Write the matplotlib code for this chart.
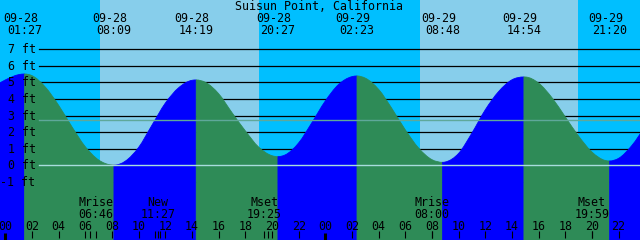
import matplotlib
matplotlib.use('Agg')
import numpy as np
import matplotlib.pyplot as plt
import matplotlib.transforms as mtransforms
from matplotlib.path import Path
from matplotlib.patches import PathPatch

plt.rcParams['font.family'] = 'DejaVu Sans Mono'

# Tide heights (ft), hourly from 09-28 -1h to 09-30 00h
hours = list(range(-1, 49))
heights = [4.70, 5.15, 5.47, 5.41, 4.72, 3.62, 2.32, 1.12, 0.32, 0.01,
           0.25, 1.08, 2.42, 3.75, 4.68, 5.13, 5.01, 4.32, 3.18, 2.08,
           1.10, 0.58, 0.63, 1.35, 2.58, 3.88, 4.88, 5.35, 5.26, 4.58,
           3.42, 2.14, 1.04, 0.34, 0.20, 0.72, 1.95, 3.35, 4.45, 5.16,
           5.33, 4.96, 4.08, 2.92, 1.76, 0.80, 0.29, 0.42, 1.20, 2.35]

# High / low tide events (hours from 09-28 00:00)
event_times = [1.45, 8.15, 14.32, 20.45, 26.38, 32.80, 38.90, 45.33]
event_heights = [5.51, 0.00, 5.15, 0.52, 5.39, 0.18, 5.33, 0.26]
event_dates = ['09-28', '09-28', '09-28', '09-28', '09-29', '09-29', '09-29', '09-29']
event_clock = ['01:27', '08:09', '14:19', '20:27', '02:23', '08:48', '14:54', '21:20']

# Moon events
moon_times = [6.77, 11.45, 19.42, 32.00, 43.98]
moon_names = ['Mrise', 'New', 'Mset', 'Mrise', 'Mset']
moon_clock = ['06:46', '11:27', '19:25', '08:00', '19:59']

day_spans = [(7.09, 19.01), (31.09, 42.94)]
msl_level = 2.72
depth_levels = list(range(-1, 8))
hour_ticks = list(range(0, 48, 2))
midnights = [0, 24]
extra_ticks = [6.38, 11.23, 11.60, 19.68]

title = 'Suisun Point, California'

# colours
NIGHT = '#00BFFF'
DAY = '#87CEEB'
RISE = '#0000FF'
FALL = '#2E8B57'
MSL_COL = '#5FA89A'
DATUM_COL = '#A8DCDC'

W, H = 640, 240


def hx(px):
    return (px - 5.3) / 13.333


def fy(py):
    return (165.3 - py) / 16.57


fig = plt.figure(figsize=(W / 100, H / 100), dpi=100)
ax = fig.add_axes([0, 0, 1, 1])
ax.set_facecolor(NIGHT)
ax.set_xlim(hx(0), hx(W))
ax.set_ylim(fy(H), fy(0))
ax.set_xticks([])
ax.set_yticks([])
for s in ax.spines.values():
    s.set_visible(False)

for a, b in day_spans:
    ax.axvspan(a, b, color=DAY, lw=0, zorder=0)

left = 39 / W
for lv in depth_levels:
    ax.axhline(lv, xmin=left, color='black', lw=0.9, zorder=1)

# tide curve: smooth bezier path through the read points, flat at highs/lows
t = np.array(hours + event_times, dtype=float)
h = np.array(heights + event_heights, dtype=float)
order = np.argsort(t)
t, h = t[order], h[order]
slope = np.gradient(h, t)
ev_idx = [int(np.argmin(np.abs(t - et))) for et in event_times]
slope[ev_idx] = 0.0
bottom = fy(H) - 1


def segment_path(i0, i1):
    verts = [(t[i0], bottom), (t[i0], h[i0])]
    codes = [Path.MOVETO, Path.LINETO]
    for k in range(i0, i1):
        dt = t[k + 1] - t[k]
        verts += [(t[k] + dt / 3, h[k] + slope[k] * dt / 3),
                  (t[k + 1] - dt / 3, h[k + 1] - slope[k + 1] * dt / 3),
                  (t[k + 1], h[k + 1])]
        codes += [Path.CURVE4] * 3
    verts += [(t[i1], bottom), (t[i0], bottom)]
    codes += [Path.LINETO, Path.CLOSEPOLY]
    return Path(verts, codes)


bounds = [0] + ev_idx + [len(t) - 1]
for i0, i1 in zip(bounds[:-1], bounds[1:]):
    col = RISE if h[i1] > h[i0] else FALL
    ax.add_patch(PathPatch(segment_path(i0, i1), facecolor=col, edgecolor=col,
                           lw=0.6, zorder=2))

ax.axhline(msl_level, xmin=left, color=MSL_COL, lw=1.0, zorder=3)
ax.axhline(0, xmin=left, color=DATUM_COL, lw=1.0, zorder=3)

fs = 8.4

# depth labels
ylab_tr = mtransforms.blended_transform_factory(ax.transAxes, ax.transData)
ylab_tr = mtransforms.offset_copy(ylab_tr, fig=fig, y=-4, units='dots')
for lv in depth_levels:
    ax.text(35.5 / W, lv, f'{lv} ft', transform=ylab_tr, ha='right',
            va='baseline', fontsize=fs, color='black', zorder=5)

xt = mtransforms.blended_transform_factory(ax.transData, fig.transFigure)
xt_shift = mtransforms.offset_copy(xt, fig=fig, x=-4, units='dots')

fig.text(319 / W, 1 - 10 / H, title, ha='center', va='baseline', fontsize=fs)

for et, d, c in zip(event_times, event_dates, event_clock):
    ax.text(et, 1 - 22 / H, d, transform=xt_shift, ha='center', va='baseline', fontsize=fs)
    ax.text(et, 1 - 34 / H, c, transform=xt, ha='center', va='baseline', fontsize=fs)

for mt, n, c in zip(moon_times, moon_names, moon_clock):
    ax.text(mt, 1 - 206 / H, n, transform=xt, ha='center', va='baseline', fontsize=fs, zorder=5)
    ax.text(mt, 1 - 218 / H, c, transform=xt, ha='center', va='baseline', fontsize=fs, zorder=5)

for hr in hour_ticks:
    ax.text(hr, 1 - 230 / H, f'{hr % 24:02d}', transform=xt, ha='center',
            va='baseline', fontsize=fs, zorder=5)

tick_tr = mtransforms.blended_transform_factory(ax.transData, ax.transAxes)
reg = [x for x in hour_ticks if x not in midnights] + moon_times + extra_ticks
ax.vlines(reg, 2 / H, 9 / H, transform=tick_tr, color='black', lw=0.8, zorder=5)
ax.vlines(midnights, 0, 7 / H, transform=tick_tr, color='black', lw=2.2, zorder=5)

fig.savefig('out.png', dpi=100)
